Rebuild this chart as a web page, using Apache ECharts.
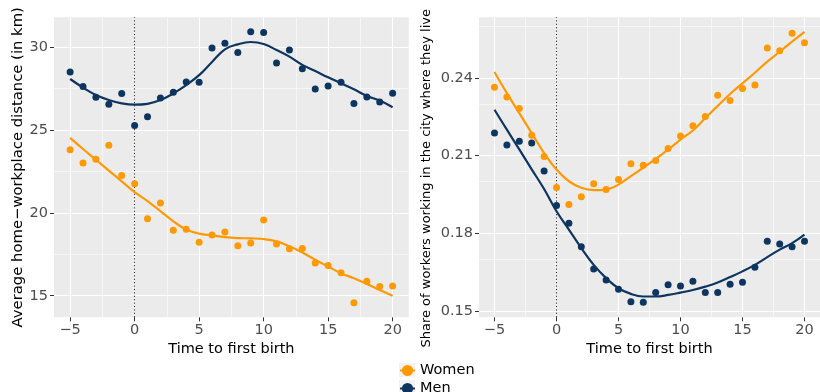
<!DOCTYPE html>
<html>
<head>
<meta charset="utf-8">
<script src="https://cdn.jsdelivr.net/npm/echarts@6/dist/echarts.min.js"></script>
<style>
  html, body { margin: 0; padding: 0; background: #fff; }
  #chart { width: 820px; height: 392px; }
</style>
</head>
<body>
<div id="chart"></div>
<script>
// Years relative to the birth of the first child
const timeToBirth = [-5, -4, -3, -2, -1, 0, 1, 2, 3, 4, 5, 6, 7, 8, 9, 10, 11, 12, 13, 14, 15, 16, 17, 18, 19, 20];

// Average home-workplace distance (km): yearly means and smoothed fit
const distWomen = [23.80, 23.01, 23.23, 24.08, 22.25, 21.76, 19.64, 20.59, 18.95, 19.01, 18.22, 18.66, 18.85,
                   18.02, 18.18, 19.57, 18.12, 17.83, 17.85, 16.98, 16.82, 16.38, 14.57, 15.87, 15.55, 15.59];
const distMen = [28.49, 27.61, 26.97, 26.55, 27.19, 25.26, 25.80, 26.93, 27.27, 27.89, 27.87, 29.94, 30.22,
                 29.66, 30.92, 30.88, 29.04, 29.82, 28.69, 27.47, 27.65, 27.87, 26.59, 26.99, 26.69, 27.21];
const distWomenFit = [24.52, 23.85, 23.20, 22.55, 21.90, 21.25, 20.71, 20.10, 19.49, 18.99, 18.75, 18.64, 18.54,
                      18.48, 18.46, 18.42, 18.28, 17.98, 17.61, 17.17, 16.76, 16.36, 16.05, 15.71, 15.34, 15.00];
const distMenFit = [28.07, 27.55, 27.10, 26.80, 26.60, 26.52, 26.57, 26.80, 27.20, 27.70, 28.30, 29.10, 29.86,
                    30.16, 30.30, 30.18, 29.82, 29.42, 28.92, 28.55, 28.17, 27.81, 27.45, 27.05, 26.77, 26.37];

// Share of workers employed in their city of residence
const shareWomen = [0.2364, 0.2326, 0.2282, 0.2179, 0.2097, 0.1977, 0.1911, 0.1941, 0.1991, 0.1969, 0.2008, 0.2069, 0.2063,
                    0.2081, 0.2127, 0.2176, 0.2215, 0.2251, 0.2333, 0.2313, 0.2359, 0.2373, 0.2515, 0.2505, 0.2572, 0.2536];
const shareMen = [0.2187, 0.2141, 0.2155, 0.2149, 0.2041, 0.1907, 0.1839, 0.1748, 0.1662, 0.1620, 0.1584, 0.1536, 0.1534,
                  0.1571, 0.1601, 0.1597, 0.1615, 0.1571, 0.1571, 0.1603, 0.1611, 0.1669, 0.1769, 0.1759, 0.1748, 0.1769];
const shareWomenFit = [0.2423, 0.2341, 0.2264, 0.2187, 0.2110, 0.2046, 0.2001, 0.1976, 0.1967, 0.1969, 0.1988, 0.2021, 0.2053,
                       0.2087, 0.2123, 0.2162, 0.2197, 0.2245, 0.2292, 0.2338, 0.2379, 0.2420, 0.2463, 0.2501, 0.2540, 0.2578];
const shareMenFit = [0.2277, 0.2200, 0.2124, 0.2047, 0.1971, 0.1885, 0.1814, 0.1743, 0.1678, 0.1627, 0.1588, 0.1566, 0.1556,
                     0.1556, 0.1562, 0.1571, 0.1581, 0.1594, 0.1610, 0.1631, 0.1653, 0.1678, 0.1708, 0.1737, 0.1762, 0.1795];

// Tick and gridline positions
const xTicks = [-5, 0, 5, 10, 15, 20];
const xMinor = [-2.5, 2.5, 7.5, 12.5, 17.5];
const distTicks = [15, 20, 25, 30];
const distMinor = [17.5, 22.5, 27.5];
const shareTicks = [0.15, 0.18, 0.21, 0.24];
const shareMinor = [0.165, 0.195, 0.225, 0.255];

const groups = ['Women', 'Men'];

const WOMEN = '#FF9900';
const MEN = '#0E355F';
const FONT = 'DejaVu Sans';

const pairs = ys => timeToBirth.map((t, i) => [t, ys[i]]);
const fmtX = v => (v < 0 ? '\u2212' + Math.abs(v) : String(v));

function gridLines(idx, yMajor, yMinor) {
  const lines = [];
  yMinor.forEach(v => lines.push({ yAxis: v, lineStyle: { width: 0.55 } }));
  xMinor.forEach(v => lines.push({ xAxis: v, lineStyle: { width: 0.55 } }));
  yMajor.forEach(v => lines.push({ yAxis: v, lineStyle: { width: 1.1 } }));
  xTicks.forEach(v => lines.push({ xAxis: v, lineStyle: { width: 1.1 } }));
  return {
    type: 'line', xAxisIndex: idx, yAxisIndex: idx, data: [], z: 0, silent: true,
    markLine: {
      z: 0, silent: true, animation: false, symbol: ['none', 'none'], label: { show: false },
      emphasis: { disabled: true },
      lineStyle: { color: '#FFFFFF', type: 'solid' },
      data: lines
    }
  };
}

function birthLine(idx) {
  return {
    type: 'line', xAxisIndex: idx, yAxisIndex: idx, data: [], z: 1, silent: true,
    markLine: {
      z: 1, silent: true, animation: false, symbol: ['none', 'none'], label: { show: false },
      emphasis: { disabled: true },
      lineStyle: { color: '#222', type: [1.2, 2.2], width: 1 },
      data: [{ xAxis: 0 }]
    }
  };
}

function fitSeries(idx, name, color, ys) {
  return {
    name, type: 'line', xAxisIndex: idx, yAxisIndex: idx, data: pairs(ys),
    smooth: 0.4, showSymbol: false, symbol: 'circle', symbolSize: 7,
    lineStyle: { color, width: 2.2 }, itemStyle: { color },
    z: 3, silent: true, animation: false
  };
}

function pointSeries(idx, name, color, ys) {
  return {
    name, type: 'scatter', xAxisIndex: idx, yAxisIndex: idx, data: pairs(ys),
    symbolSize: 7, itemStyle: { color, opacity: 1 },
    z: 2, silent: true, animation: false
  };
}

function xAxisFor(idx) {
  return {
    type: 'value', gridIndex: idx, min: -6.25, max: 21.25,
    axisLine: { show: false, onZero: false },
    splitLine: { show: false },
    axisTick: { show: true, customValues: xTicks, length: 4, lineStyle: { color: '#333', width: 1 } },
    axisLabel: { customValues: xTicks, formatter: fmtX, color: '#4D4D4D', fontSize: 14.5, fontFamily: FONT, margin: 5 },
    name: 'Time to first birth', nameLocation: 'middle', nameGap: 20,
    nameTextStyle: { color: '#000', fontSize: 14.5, fontFamily: FONT }
  };
}

const chart = echarts.init(document.getElementById('chart'), null, { renderer: 'canvas' });

chart.setOption({
  animation: false,
  backgroundColor: '#FFFFFF',
  grid: [
    { left: 54, top: 17.3, width: 354.75, height: 300, show: true, backgroundColor: '#EBEBEB', borderWidth: 0, containLabel: false },
    { left: 479, top: 17.3, width: 342.4, height: 300, show: true, backgroundColor: '#EBEBEB', borderWidth: 0, containLabel: false }
  ],
  xAxis: [xAxisFor(0), xAxisFor(1)],
  yAxis: [
    {
      type: 'value', gridIndex: 0, min: 13.70, max: 31.79,
      axisLine: { show: false, onZero: false }, splitLine: { show: false },
      axisTick: { show: true, customValues: distTicks, length: 4, lineStyle: { color: '#333', width: 1 } },
      axisLabel: { customValues: distTicks, color: '#4D4D4D', fontSize: 14.5, fontFamily: FONT, margin: 6 },
      name: 'Average home\u2212workplace distance (in km)', nameLocation: 'middle', nameGap: 28,
      nameTextStyle: { color: '#000', fontSize: 14.8, fontFamily: FONT }
    },
    {
      type: 'value', gridIndex: 1, min: 0.14757, max: 0.2634,
      axisLine: { show: false, onZero: false }, splitLine: { show: false },
      axisTick: { show: true, customValues: shareTicks, length: 4, lineStyle: { color: '#333', width: 1 } },
      axisLabel: { customValues: shareTicks, formatter: v => v.toFixed(2), color: '#4D4D4D', fontSize: 14.5, fontFamily: FONT, margin: 6 },
      name: 'Share of workers working in the city where they live', nameLocation: 'middle', nameGap: 46,
      nameTextStyle: { color: '#000', fontSize: 13, fontFamily: FONT, padding: [0, 22, 0, 0] }
    }
  ],
  legend: {
    data: groups, orient: 'vertical', left: 399, top: 363, height: 60,
    itemWidth: 15, itemHeight: 14, itemGap: 3, padding: 0,
    textStyle: { color: '#000', fontSize: 14.5, fontFamily: FONT }
  },
  graphic: [
    { type: 'rect', left: 399, top: 363, shape: { width: 16, height: 14 }, style: { fill: '#F2F2F2' }, z: -1 },
    { type: 'rect', left: 399, top: 380, shape: { width: 16, height: 14 }, style: { fill: '#F2F2F2' }, z: -1 }
  ],
  series: [
    fitSeries(0, 'Women', WOMEN, distWomenFit),
    fitSeries(0, 'Men', MEN, distMenFit),
    fitSeries(1, 'Women', WOMEN, shareWomenFit),
    fitSeries(1, 'Men', MEN, shareMenFit),
    pointSeries(0, 'Women', WOMEN, distWomen),
    pointSeries(0, 'Men', MEN, distMen),
    pointSeries(1, 'Women', WOMEN, shareWomen),
    pointSeries(1, 'Men', MEN, shareMen),
    gridLines(0, distTicks, distMinor),
    gridLines(1, shareTicks, shareMinor),
    birthLine(0),
    birthLine(1)
  ]
});
</script>
</body>
</html>
